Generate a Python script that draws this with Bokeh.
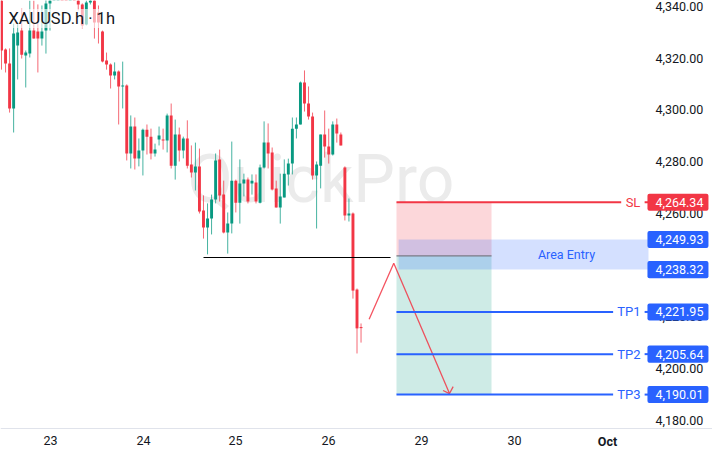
from bokeh.plotting import figure
from bokeh.models import Range1d, FixedTicker, NumeralTickFormatter, Label
from bokeh.embed import file_html
from bokeh.resources import INLINE

# --- candles (hourly bars, index 0..89) ---
opens = [4344.2,4323.4,4318.0,4300.6,4324.9,4330.7,4321.1,4321.8,4330.7,4330.3,
         4327.6,4330.7,4341.2,4345,4349,4353,4350,4347,4351,4343.1,
         4340.8,4333.0,4341.5,4342.3,4337.7,4330.3,4319.1,4317.6,4313.3,4314.9,
         4309.1,4309.5,4283.2,4293.6,4281.3,4284.3,4292.4,4289.7,4283.2,4288.6,
         4288.6,4288.2,4297.9,4278.5,4290.5,4284.3,4289.0,4278.9,4275.8,4278.2,
         4261.2,4254.6,4258.1,4265.4,4280.9,4267.3,4252.7,4256.1,4272.7,4264.2,
         4271.6,4273.1,4271.6,4272.0,4264.2,4277.8,4287.4,4283.6,4269.7,4262.3,
         4266.2,4275.1,4279.3,4292.8,4294.4,4310.6,4302.5,4297.5,4274.7,4278.5,
         4290.5,4285.9,4282.8,4294.4,4290.5,4277.8,4259.2,4260.0,4230.6,4216.1]
highs = [4346,4323.8,4323.8,4333.4,4333.4,4339.2,4323.0,4342.3,4342.3,4340.8,
         4340.4,4343.5,4344.2,4352,4356,4358,4355,4353,4354,4345,
         4341.2,4342.3,4345,4343.5,4340.4,4330.7,4322.2,4318.0,4318.4,4315.3,
         4318.7,4309.9,4297.9,4297.1,4289.0,4292.8,4294.4,4292.8,4287.0,4293.6,
         4292.8,4298.6,4302.5,4296.3,4293.2,4289.7,4296.0,4286.3,4287.4,4285.1,
         4267.0,4263.9,4267.3,4283.2,4284.7,4272.7,4260.4,4287.8,4273.1,4280.9,
         4275.4,4273.9,4275.1,4275.1,4278.9,4295.6,4294.8,4285.5,4272.7,4275.4,
         4280.9,4281.2,4297.1,4297.1,4311.0,4315.3,4309.1,4299.0,4280.1,4290.5,
         4299.8,4292.8,4295.6,4296.7,4291.3,4278.2,4265.8,4260.4,4231.0,4217.5]
lows = [4315.6,4314.5,4299.0,4291.3,4311.8,4319.9,4308.7,4320.3,4327.6,4314.5,
        4324.9,4321.8,4330.7,4343,4345,4348,4346,4344,4345,4338.5,
        4331.5,4332.7,4340.8,4327.6,4325.7,4318.4,4315.6,4308.3,4311.8,4294.4,
        4300.6,4280.5,4277.4,4277.0,4278.2,4274.7,4282.8,4280.9,4282.0,4286.3,
        4284.7,4283.6,4277.4,4273.1,4280.1,4281.3,4277.4,4273.9,4268.9,4260.0,
        4250.3,4244.2,4251.9,4263.9,4264.6,4252.3,4244.5,4252.3,4260.4,4256.1,
        4266.6,4263.9,4267.3,4263.9,4263.9,4277.4,4277.4,4268.9,4262.3,4256.1,
        4266.2,4270.8,4275.1,4289.0,4294.4,4299.4,4296.3,4273.1,4254.2,4269.7,
        4281.6,4279.3,4282.4,4287.4,4286.3,4257.3,4256.9,4227.1,4205.9,4210.1]
closes = [4323.0,4318.0,4300.6,4329.6,4330.0,4321.4,4322.2,4330.7,4327.6,4327.6,
          4330.3,4341.2,4343.5,4349,4353,4350,4347,4351,4346,4340.8,
          4332.7,4341.5,4343.1,4333.8,4333.8,4318.7,4317.6,4313.3,4314.9,4309.1,
          4309.5,4283.2,4293.6,4281.3,4284.3,4292.4,4289.7,4283.2,4284.7,4290.1,
          4288.2,4297.9,4278.5,4290.5,4284.3,4289.0,4278.5,4275.8,4278.2,4260.8,
          4254.6,4258.1,4265.4,4280.5,4267.0,4252.7,4256.1,4272.7,4264.2,4271.6,
          4273.1,4264.6,4272.7,4264.6,4277.8,4287.4,4283.2,4269.3,4262.3,4266.6,
          4275.4,4279.3,4292.8,4294.4,4310.6,4302.5,4297.5,4274.7,4278.9,4290.5,
          4285.9,4282.8,4294.4,4290.9,4286.3,4259.2,4260.0,4230.2,4215.6,4215.7]

# --- trade levels ---
sl_price = 4264.34
entry_top = 4249.93
entry_bottom = 4238.32
entry_mid = 4243.6
tp_prices = [4221.95, 4205.64, 4190.01]
tp_names = ["TP1", "TP2", "TP3"]
support_price = 4243.0
path_x = [91.0, 97.1, 110.9]
path_y = [4219.1, 4240.8, 4190.4]
head_x = [109.3, 110.9, 111.8]
head_y = [4191.6, 4190.4, 4193.1]

# --- axes ---
day_ticks = [12.13, 35.15, 57.9, 80.94, 103.96, 126.98, 149.99]
day_labels = ["23", "24", "25", "26", "29", "30", ""]
price_ticks = [4180, 4200, 4220, 4240, 4260, 4280, 4300, 4320, 4340]
axis_bottom_price = 4176.9
axis_right_index = 160.15

GREEN, RED, BLUE = "#089981", "#f23645", "#2962ff"
INK = "#131722"
FONT = "Roboto"

p = figure(width=712, height=456, output_backend="svg", toolbar_location=None,
           x_range=Range1d(-0.25, 176.0), y_range=Range1d(4166.08, 4342.32),
           y_axis_location="right", min_border_left=0, min_border_top=0,
           min_border_right=0, min_border_bottom=0)
p.styles = {"position": "absolute", "left": "0px", "top": "0px"}
p.outline_line_color = None
p.grid.visible = False

p.xaxis.fixed_location = axis_bottom_price
p.xaxis.ticker = FixedTicker(ticks=day_ticks)
p.xaxis.major_label_overrides = dict(zip(day_ticks, day_labels))
p.xaxis.axis_line_color = "#e0e3eb"
p.xaxis.major_tick_line_color = None
p.xaxis.minor_tick_line_color = None
p.xaxis.major_label_text_font = FONT
p.xaxis.major_label_text_font_size = "12.5px"
p.xaxis.major_label_text_color = INK
p.xaxis.major_label_standoff = 1

p.yaxis.fixed_location = axis_right_index
p.yaxis.ticker = FixedTicker(ticks=price_ticks)
p.yaxis.formatter = NumeralTickFormatter(format="0,0.00")
p.yaxis.axis_line_color = None
p.yaxis.major_tick_line_color = None
p.yaxis.minor_tick_line_color = None
p.yaxis.major_label_text_font = FONT
p.yaxis.major_label_text_font_size = "12.5px"
p.yaxis.major_label_text_color = INK
p.yaxis.major_label_standoff = 1

# watermark beneath everything
p.add_layout(Label(x=187, y=277, x_units="screen", y_units="screen", text="QuickPro",
                   text_font=FONT, text_font_size="66px", text_color="#ebebeb",
                   text_baseline="alphabetic", level="underlay"))

# candles
xs = list(range(len(opens)))
up = [c >= o for o, c in zip(opens, closes)]
colors = [GREEN if u else RED for u in up]
p.segment(xs, highs, xs, lows, line_color=colors, line_width=1, line_alpha=0.75)
p.vbar(x=xs, width=0.72, top=[max(o, c) for o, c in zip(opens, closes)],
       bottom=[min(o, c) for o, c in zip(opens, closes)],
       fill_color=colors, line_color=None)

# trade zones
p.quad(left=97.77, right=121.3, top=sl_price, bottom=entry_mid,
       fill_color=RED, fill_alpha=0.2, line_color=None)
p.quad(left=97.77, right=121.3, top=entry_mid, bottom=tp_prices[2],
       fill_color=GREEN, fill_alpha=0.2, line_color=None)
p.quad(left=98.3, right=160.15, top=entry_top, bottom=entry_bottom,
       fill_color=BLUE, fill_alpha=0.2, line_color=None)
p.line([97.77, 121.3], [entry_mid, entry_mid], line_color="#787b86", line_width=1.2)

# support line and projected path
p.line([50, 96.3], [support_price, support_price], line_color="#000000", line_width=1.1)
p.line(path_x, path_y, line_color=RED, line_width=1.3, line_alpha=0.85)
p.line(head_x, head_y, line_color=RED, line_width=1.3, line_alpha=0.85)

# level lines with names
p.line([97.77, 153.4], [sl_price, sl_price], line_color=RED, line_width=2)
p.line([159.2, 160.15], [sl_price, sl_price], line_color=RED, line_width=2)
p.add_layout(Label(x=632.5, y=sl_price, x_units="screen", y_units="data", text="SL",
                   text_font=FONT, text_font_size="13px", text_color=RED,
                   text_align="center", text_baseline="middle"))
for price, name in zip(tp_prices, tp_names):
    p.line([97.77, 151.4], [price, price], line_color=BLUE, line_width=2)
    p.line([159.2, 160.15], [price, price], line_color=BLUE, line_width=2)
    p.add_layout(Label(x=628.5, y=price, x_units="screen", y_units="data", text=name,
                       text_font=FONT, text_font_size="13px", text_color=BLUE,
                       text_align="center", text_baseline="middle"))
p.add_layout(Label(x=566, y=(entry_top + entry_bottom) / 2, x_units="screen", y_units="data",
                   text="Area Entry", text_font=FONT, text_font_size="12.5px", text_color=BLUE,
                   text_align="center", text_baseline="middle"))

# price tags on the axis, above the tick labels
tag_half = 3.3
for price, col in [(sl_price, RED), (entry_top, BLUE), (entry_bottom, BLUE),
                   (tp_prices[0], BLUE), (tp_prices[1], BLUE), (tp_prices[2], BLUE)]:
    p.quad(left=159.9, right=175.0, top=price + tag_half, bottom=price - tag_half,
           fill_color=col, line_color=None, border_radius=2, level="overlay")
    p.add_layout(Label(x=655, y=price, x_units="screen", y_units="data",
                       text=f"{price:,.2f}", text_font=FONT, text_font_size="12.5px",
                       text_color="#ffffff", text_baseline="middle", level="overlay"))

# title and bold month label
p.add_layout(Label(x=8, y=438, x_units="screen", y_units="screen", text="XAUUSD.h · 1h",
                   text_font=FONT, text_font_size="16.5px", text_color=INK,
                   text_baseline="middle", background_fill_color="#ffffff",
                   background_fill_alpha=0.6))
p.add_layout(Label(x=607, y=15, x_units="screen", y_units="screen", text="Oct",
                   text_font=FONT, text_font_size="12.5px", text_font_style="bold",
                   text_color=INK, text_align="center", text_baseline="middle"))

open("out.html", "w").write(file_html(p, INLINE))
